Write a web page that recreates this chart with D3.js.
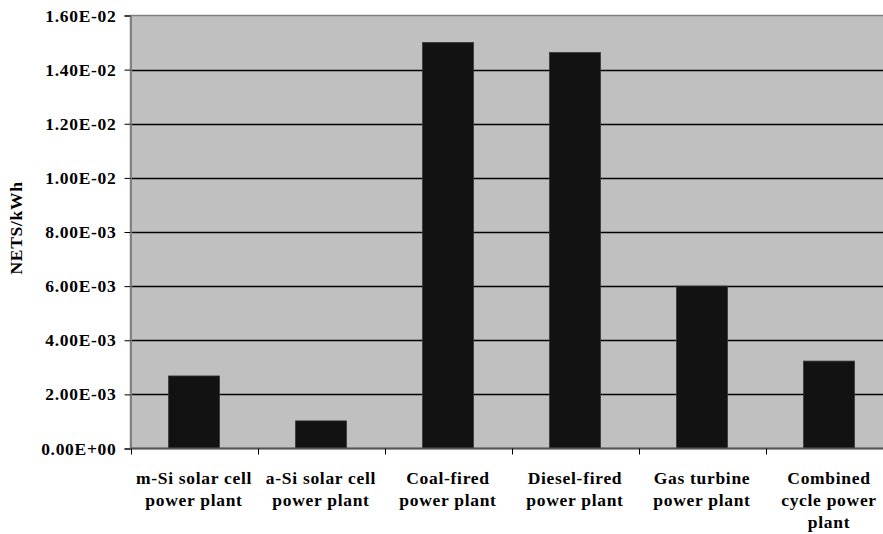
<!DOCTYPE html>
<html>
<head>
<meta charset="utf-8">
<script src="https://cdn.jsdelivr.net/npm/d3@7"></script>
<style>
  html, body { margin: 0; padding: 0; background: #fff; }
  svg { display: block; }
  text { font-family: "Liberation Serif", "Times New Roman", serif; font-weight: bold; fill: #000; }
</style>
</head>
<body>
<svg id="chart" width="883" height="534"></svg>
<script>
const categories = [
  ["m-Si solar cell", "power plant"],
  ["a-Si solar cell", "power plant"],
  ["Coal-fired", "power plant"],
  ["Diesel-fired", "power plant"],
  ["Gas turbine", "power plant"],
  ["Combined", "cycle power", "plant"]
];
const values = [0.00268, 0.00102, 0.0150, 0.01463, 0.0060, 0.00323];
const yTickValues = [0, 0.002, 0.004, 0.006, 0.008, 0.010, 0.012, 0.014, 0.016];
const yTickLabels = ["0.00E+00", "2.00E-03", "4.00E-03", "6.00E-03", "8.00E-03",
                     "1.00E-02", "1.20E-02", "1.40E-02", "1.60E-02"];
const yAxisTitle = "NETS/kWh";

const svg = d3.select("#chart");
const pLeft = 130.5, pTop = 15.5, pBottom = 448.5, pRight = 892.5;

const x = d3.scaleBand().domain(d3.range(categories.length)).range([pLeft, pRight])
  .paddingInner(0.6).paddingOuter(0.3);
const y = d3.scaleLinear().domain([0, 0.016]).range([pBottom, pTop]);

// plot background
svg.append("rect").attr("x", pLeft).attr("y", pTop)
  .attr("width", pRight - pLeft).attr("height", pBottom - pTop)
  .attr("fill", "#c0c0c0").attr("stroke", "#808080").attr("stroke-width", 1.5);

// gridlines
svg.append("g").selectAll("line").data(yTickValues.slice(1, -1)).join("line")
  .attr("x1", pLeft).attr("x2", pRight)
  .attr("y1", d => Math.round(y(d)) + 0.5).attr("y2", d => Math.round(y(d)) + 0.5)
  .attr("stroke", "#000").attr("stroke-width", 1.3);

// bars
svg.append("g").selectAll("rect").data(values).join("rect")
  .attr("x", (d, i) => x(i)).attr("width", x.bandwidth())
  .attr("y", d => y(d)).attr("height", d => y(0) - y(d))
  .attr("fill", "#121212").attr("stroke", "#333").attr("stroke-width", 0.8);

// y axis
const yAxis = d3.axisLeft(y).tickValues(yTickValues)
  .tickFormat((d, i) => yTickLabels[i]).tickSize(6).tickPadding(8);
const gy = svg.append("g").attr("transform", `translate(${pLeft},0)`).call(yAxis);
gy.select(".domain").attr("stroke", "#808080").attr("stroke-width", 2);
gy.selectAll(".tick line").attr("stroke", "#000");
gy.selectAll(".tick text").attr("font-size", 17.5).attr("letter-spacing", 0.7)
  .attr("font-family", "Liberation Serif").attr("font-weight", "bold").attr("fill", "#000");

// x axis: ticks at band boundaries
const boundaries = d3.range(categories.length + 1).map(i => pLeft + i * (pRight - pLeft) / categories.length);
svg.append("line").attr("x1", pLeft).attr("x2", pRight).attr("y1", pBottom).attr("y2", pBottom)
  .attr("stroke", "#555").attr("stroke-width", 2);
svg.append("g").selectAll("line").data(boundaries).join("line")
  .attr("x1", d => Math.round(d) + 0.5).attr("x2", d => Math.round(d) + 0.5)
  .attr("y1", pBottom).attr("y2", pBottom + 6).attr("stroke", "#000");

// x labels
const xl = svg.append("g").selectAll("text").data(categories).join("text")
  .attr("text-anchor", "middle").attr("font-size", 17.5).attr("letter-spacing", 0.7)
  .attr("x", (d, i) => x(i) + x.bandwidth() / 2).attr("y", 484);
xl.selectAll("tspan").data(d => d).join("tspan")
  .attr("x", function() { return d3.select(this.parentNode).attr("x"); })
  .attr("dy", (d, i) => i === 0 ? 0 : 22)
  .text(d => d);

// y axis title
svg.append("text").attr("transform", "translate(22,228) rotate(-90)")
  .attr("text-anchor", "middle").attr("font-size", 17.5).attr("letter-spacing", 0.7)
  .text(yAxisTitle);
</script>
</body>
</html>
